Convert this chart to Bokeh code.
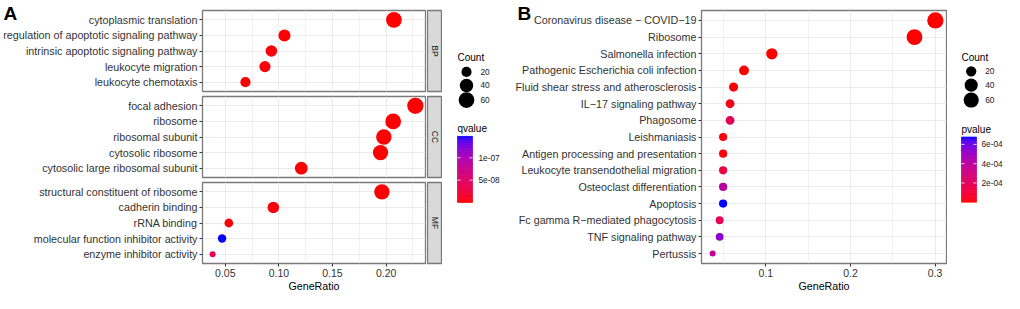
import math
from bokeh.plotting import figure
from bokeh.layouts import row, column
from bokeh.models import (ColumnDataSource, FactorRange, Range1d, FixedTicker,
                          LinearColorMapper, NumeralTickFormatter, Title)
from bokeh.transform import transform
from bokeh.core.properties import value
from bokeh.embed import file_html
from bokeh.resources import INLINE

FONT = "Liberation Sans"

# ---------------- data: panel A (GO enrichment) ----------------
go_ontology = ["BP", "BP", "BP", "BP", "BP",
               "CC", "CC", "CC", "CC", "CC",
               "MF", "MF", "MF", "MF", "MF"]
go_terms = ["cytoplasmic translation", "regulation of apoptotic signaling pathway",
            "intrinsic apoptotic signaling pathway", "leukocyte migration", "leukocyte chemotaxis",
            "focal adhesion", "ribosome", "ribosomal subunit", "cytosolic ribosome",
            "cytosolic large ribosomal subunit",
            "structural constituent of ribosome", "cadherin binding", "rRNA binding",
            "molecular function inhibitor activity", "enzyme inhibitor activity"]
go_ratio = [0.2073, 0.1052, 0.0930, 0.0870, 0.0688,
            0.2273, 0.2066, 0.1979, 0.1948, 0.1209,
            0.1961, 0.0948, 0.0533, 0.0470, 0.0382]
go_count = [60, 30, 27, 25, 20,
            66, 60, 57, 56, 35,
            57, 27, 15, 14, 11]
go_qvalue = [3.2e-30, 8.1e-10, 2.5e-9, 1.9e-9, 1.1e-9,
             1.5e-20, 2.1e-24, 4.4e-25, 3.3e-25, 1.2e-16,
             5.6e-27, 3.1e-9, 2.7e-10, 1.48e-7, 3.6e-8]
facets = ["BP", "CC", "MF"]
go_x_ticks = [0.05, 0.10, 0.15, 0.20]
go_x_minor = [0.075, 0.125, 0.175, 0.225]
go_q_ticks = [5e-8, 1e-7]

# ---------------- data: panel B (KEGG enrichment) ----------------
kegg_terms = ["Coronavirus disease \u2212 COVID\u221219", "Ribosome", "Salmonella infection",
              "Pathogenic Escherichia coli infection", "Fluid shear stress and atherosclerosis",
              "IL\u221217 signaling pathway", "Phagosome", "Leishmaniasis",
              "Antigen processing and presentation", "Leukocyte transendothelial migration",
              "Osteoclast differentiation", "Apoptosis", "Fc gamma R\u2212mediated phagocytosis",
              "TNF signaling pathway", "Pertussis"]
kegg_ratio = [0.3004, 0.2757, 0.1070, 0.0741, 0.0617, 0.0576, 0.0576, 0.0494,
              0.0494, 0.0494, 0.0494, 0.0494, 0.0453, 0.0453, 0.0370]
kegg_count = [73, 67, 26, 18, 15, 14, 14, 12, 12, 12, 12, 12, 11, 11, 9]
kegg_pvalue = [2.4e-12, 5.1e-15, 3.3e-7, 2.9e-6, 1.2e-5, 3.4e-5, 1.9e-4, 1.6e-5,
               2.2e-5, 1.35e-4, 4.1e-4, 6.77e-4, 1.8e-4, 5.4e-4, 3.7e-4]
kegg_x_ticks = [0.1, 0.2, 0.3]
kegg_x_minor = [0.05, 0.15, 0.25]
kegg_p_ticks = [2e-4, 4e-4, 6e-4]

legend_counts = [20, 40, 60]

# ---------------- helpers (styling) ----------------
def _lin(c):
    c = c / 255.0
    return c / 12.92 if c <= 0.04045 else ((c + 0.055) / 1.055) ** 2.4

def _gam(c):
    c = max(0.0, min(1.0, c))
    v = 12.92 * c if c <= 0.0031308 else 1.055 * c ** (1 / 2.4) - 0.055
    return int(round(v * 255))

WHITE = (0.95047, 1.0, 1.08883)

def _f(t):
    d = 6 / 29
    return t ** (1 / 3) if t > d ** 3 else t / (3 * d * d) + 4 / 29

def _finv(t):
    d = 6 / 29
    return t ** 3 if t > d else 3 * d * d * (t - 4 / 29)

def rgb2lab(rgb):
    r, g, b = [_lin(c) for c in rgb]
    X = 0.4124 * r + 0.3576 * g + 0.1805 * b
    Y = 0.2126 * r + 0.7152 * g + 0.0722 * b
    Z = 0.0193 * r + 0.1192 * g + 0.9505 * b
    fx, fy, fz = _f(X / WHITE[0]), _f(Y / WHITE[1]), _f(Z / WHITE[2])
    return (116 * fy - 16, 500 * (fx - fy), 200 * (fy - fz))

def lab2hex(lab):
    L, a, b = lab
    fy = (L + 16) / 116
    fx = fy + a / 500
    fz = fy - b / 200
    X, Y, Z = WHITE[0] * _finv(fx), WHITE[1] * _finv(fy), WHITE[2] * _finv(fz)
    r = 3.2406 * X - 1.5372 * Y - 0.4986 * Z
    g = -0.9689 * X + 1.8758 * Y + 0.0415 * Z
    bb = 0.0557 * X - 0.2040 * Y + 1.0570 * Z
    return "#%02x%02x%02x" % (_gam(r), _gam(g), _gam(bb))

def lab_palette(c0, c1, n=256):
    l0, l1 = rgb2lab(c0), rgb2lab(c1)
    return [lab2hex(tuple(l0[k] + (l1[k] - l0[k]) * i / (n - 1) for k in range(3))) for i in range(n)]

PALETTE = lab_palette((255, 0, 0), (0, 0, 255))

def size_map(counts, cmin, cmax):
    return [6 + 10.3 * math.sqrt((c - cmin) / (cmax - cmin)) for c in counts]

def expand(vals, frac=0.05):
    lo, hi = min(vals), max(vals)
    d = (hi - lo) * frac
    return lo - d, hi + d

BORDER = "#7a7a7a"
GRID = "#ebebeb"
TXT = "#333333"
YLAB_SIZE = "10.75px"
FACTOR_PAD = 0.1   # ggplot's 0.6 discrete expansion (Bokeh already leaves 0.5)

def style_common(p):
    p.background_fill_color = "white"
    p.border_fill_color = "white"
    p.outline_line_color = BORDER
    p.outline_line_width = 1.3
    p.xgrid.grid_line_color = GRID
    p.xgrid.grid_line_width = 1
    p.xgrid.minor_grid_line_color = GRID
    p.xgrid.minor_grid_line_width = 0.7
    p.ygrid.grid_line_color = GRID
    p.ygrid.grid_line_width = 1
    for ax in p.yaxis:
        ax.axis_line_color = None
        ax.major_tick_out = 3
        ax.major_tick_in = 0
        ax.major_tick_line_color = TXT
        ax.major_label_standoff = 2
        ax.major_label_text_font = FONT
        ax.major_label_text_font_size = YLAB_SIZE
        ax.major_label_text_color = TXT

def style_xaxis(p, ticks, minor, fmt):
    ax = p.xaxis[0]
    ax.ticker = FixedTicker(ticks=ticks, minor_ticks=minor)
    ax.formatter = NumeralTickFormatter(format=fmt)
    ax.axis_line_color = None
    ax.major_tick_out = 3
    ax.major_tick_in = 0
    ax.major_tick_line_color = TXT
    ax.minor_tick_line_color = None
    ax.major_label_standoff = 1
    ax.major_label_text_font = FONT
    ax.major_label_text_font_size = "10.5px"
    ax.major_label_text_color = TXT
    ax.axis_label = "GeneRatio"
    ax.axis_label_standoff = 0
    ax.axis_label_text_font = FONT
    ax.axis_label_text_font_size = "10.7px"
    ax.axis_label_text_font_style = "normal"
    ax.axis_label_text_color = "black"

def panel_title(p, text, offset):
    p.add_layout(Title(text=text, align="left", offset=offset, standoff=-26,
                       vertical_align="bottom", text_font=FONT, text_font_size="19px",
                       text_font_style="bold", text_color="black"), "above")

TOP = 10
TOTAL_H = 291

# ---------------- panel A ----------------
A_LEFT, A_W, A_H = 202, 223, 81
xr_A = Range1d(*expand(go_ratio))
mapper_A = LinearColorMapper(palette=PALETTE, low=min(go_qvalue), high=max(go_qvalue))
sizes_A = size_map(go_count, min(go_count), max(go_count))

rows_A = []
for i, fac in enumerate(facets):
    idx = [k for k, o in enumerate(go_ontology) if o == fac]
    terms = [go_terms[k] for k in idx]
    src = ColumnDataSource(dict(term=terms,
                                ratio=[go_ratio[k] for k in idx],
                                q=[go_qvalue[k] for k in idx],
                                size=[sizes_A[k] for k in idx]))
    first, last = i == 0, i == len(facets) - 1
    yr = FactorRange(factors=list(reversed(terms)), range_padding=FACTOR_PAD,
                     range_padding_units="absolute")
    p = figure(x_range=xr_A, y_range=yr, frame_width=A_W, frame_height=A_H,
               min_border_left=A_LEFT, min_border_right=1,
               min_border_top=TOP if first else 2, min_border_bottom=0 if last else 2,
               x_axis_location="below" if last else None,
               toolbar_location=None, output_backend="svg")
    p.xgrid.ticker = FixedTicker(ticks=go_x_ticks, minor_ticks=go_x_minor)
    style_common(p)
    if last:
        style_xaxis(p, go_x_ticks, go_x_minor, "0.00")
    p.scatter("ratio", "term", size="size", source=src, marker="circle",
              fill_color=transform("q", mapper_A), line_color=None)
    if first:
        panel_title(p, "A", 3 - A_LEFT)
    s = figure(x_range=Range1d(0, 1), y_range=Range1d(0, 1), frame_width=14, frame_height=A_H,
               min_border_left=1, min_border_right=1,
               min_border_top=TOP if first else 2, min_border_bottom=2,
               x_axis_location=None, y_axis_location=None,
               toolbar_location=None, output_backend="svg")
    s.grid.visible = False
    s.background_fill_color = "#d9d9d9"
    s.border_fill_color = "white"
    s.outline_line_color = BORDER
    s.outline_line_width = 1.3
    s.text(x=[0.5], y=[0.5], text=[fac], angle=-math.pi / 2, text_align="center",
           text_baseline="middle", text_font=value(FONT), text_font_size="8.5px",
           text_color="#1a1a1a")
    rows_A.append(row(p, s, spacing=0))

col_A = column(*rows_A, spacing=1)


def legend_fig(w, mapper, ticks, title, cmin, cmax, xs, ys, bar):
    """Size legend (Count) and colour bar drawn in a blank figure."""
    tx, cx, lx, tlx = xs
    title_y, key_y, ctitle_y = ys
    bar_top, bar_bot = bar
    lo, hi = mapper.low, mapper.high
    span = hi - lo
    bar_len = bar_bot - bar_top
    lg = figure(x_range=Range1d(0, w), y_range=Range1d(TOTAL_H, 0), width=w, height=TOTAL_H,
                min_border=0, x_axis_location=None, y_axis_location=None,
                toolbar_location=None, output_backend="svg")
    lg.grid.visible = False
    lg.outline_line_color = None
    # value scale for the colour bar
    lg.extra_y_ranges = {"cb": Range1d(lo - (TOTAL_H - bar_bot) / bar_len * span,
                                       hi + bar_top / bar_len * span)}
    lg.text(x=[tx], y=[title_y], text=["Count"], text_align="left", text_baseline="middle",
            text_font=value(FONT), text_font_size="10px", text_color="black")
    lg.scatter(x=[cx] * len(legend_counts), y=key_y,
               size=size_map(legend_counts, cmin, cmax), marker="circle",
               fill_color="black", line_color=None)
    lg.text(x=[lx] * len(legend_counts), y=key_y, text=[str(c) for c in legend_counts],
            text_align="left", text_baseline="middle", text_font=value(FONT),
            text_font_size="8.3px", text_color="#1a1a1a")
    lg.text(x=[tx], y=[ctitle_y], text=[title], text_align="left", text_baseline="middle",
            text_font=value(FONT), text_font_size="10px", text_color="black")
    n = 80
    edges = [lo + span * k / n for k in range(n + 1)]
    mids = [(edges[k] + edges[k + 1]) / 2 for k in range(n)]
    cbs = ColumnDataSource(dict(b=edges[:-1], t=edges[1:], v=mids))
    lg.quad(left=tx, right=tx + 15, bottom="b", top="t", source=cbs, y_range_name="cb",
            fill_color=transform("v", mapper), line_color=transform("v", mapper),
            line_width=0.6)
    lg.segment(x0=[tx] * len(ticks), x1=[tx + 3] * len(ticks), y0=ticks, y1=ticks,
               y_range_name="cb", line_color="white", line_width=1, line_alpha=0.8)
    lg.segment(x0=[tx + 12] * len(ticks), x1=[tx + 15] * len(ticks), y0=ticks, y1=ticks,
               y_range_name="cb", line_color="white", line_width=1, line_alpha=0.8)
    lg.text(x=[tlx] * len(ticks), y=ticks, text=[f"{t:.0e}" for t in ticks],
            y_range_name="cb", text_align="left", text_baseline="middle",
            text_font=value(FONT), text_font_size="8.3px", text_color="#1a1a1a")
    return lg


leg_A = legend_fig(66, mapper_A, go_q_ticks, "qvalue", min(go_count), max(go_count),
                   (15, 24, 38, 36), (54.2, [71.5, 87.2, 104.2], 137.5), (146.5, 223.5))

# ---------------- panel B ----------------
B_START = 508
B_LEFT, B_W = 701 - B_START, 245
B_H = 263 - TOP
mapper_B = LinearColorMapper(palette=PALETTE, low=min(kegg_pvalue), high=max(kegg_pvalue))
src_B = ColumnDataSource(dict(term=kegg_terms, ratio=kegg_ratio, p=kegg_pvalue,
                              size=size_map(kegg_count, min(kegg_count), max(kegg_count))))
yr_B = FactorRange(factors=list(reversed(kegg_terms)), range_padding=FACTOR_PAD,
                   range_padding_units="absolute")
pB = figure(x_range=Range1d(*expand(kegg_ratio)), y_range=yr_B, frame_width=B_W, frame_height=B_H,
            min_border_left=B_LEFT, min_border_right=1, min_border_top=TOP, min_border_bottom=0,
            toolbar_location=None, output_backend="svg")
pB.xgrid.ticker = FixedTicker(ticks=kegg_x_ticks, minor_ticks=kegg_x_minor)
style_common(pB)
style_xaxis(pB, kegg_x_ticks, kegg_x_minor, "0.0")
pB.scatter("ratio", "term", size="size", source=src_B, marker="circle",
           fill_color=transform("p", mapper_B), line_color=None)
panel_title(pB, "B", 517 - 701)

leg_B = legend_fig(56, mapper_B, kegg_p_ticks, "pvalue", min(kegg_count), max(kegg_count),
                   (14, 23.7, 37.7, 34), (54.2, [70.8, 86.8, 104.2], 138.2), (147.2, 223.2))

layout = row(col_A, leg_A, pB, leg_B, spacing=0)

open("out.html", "w").write(file_html(layout, INLINE))
